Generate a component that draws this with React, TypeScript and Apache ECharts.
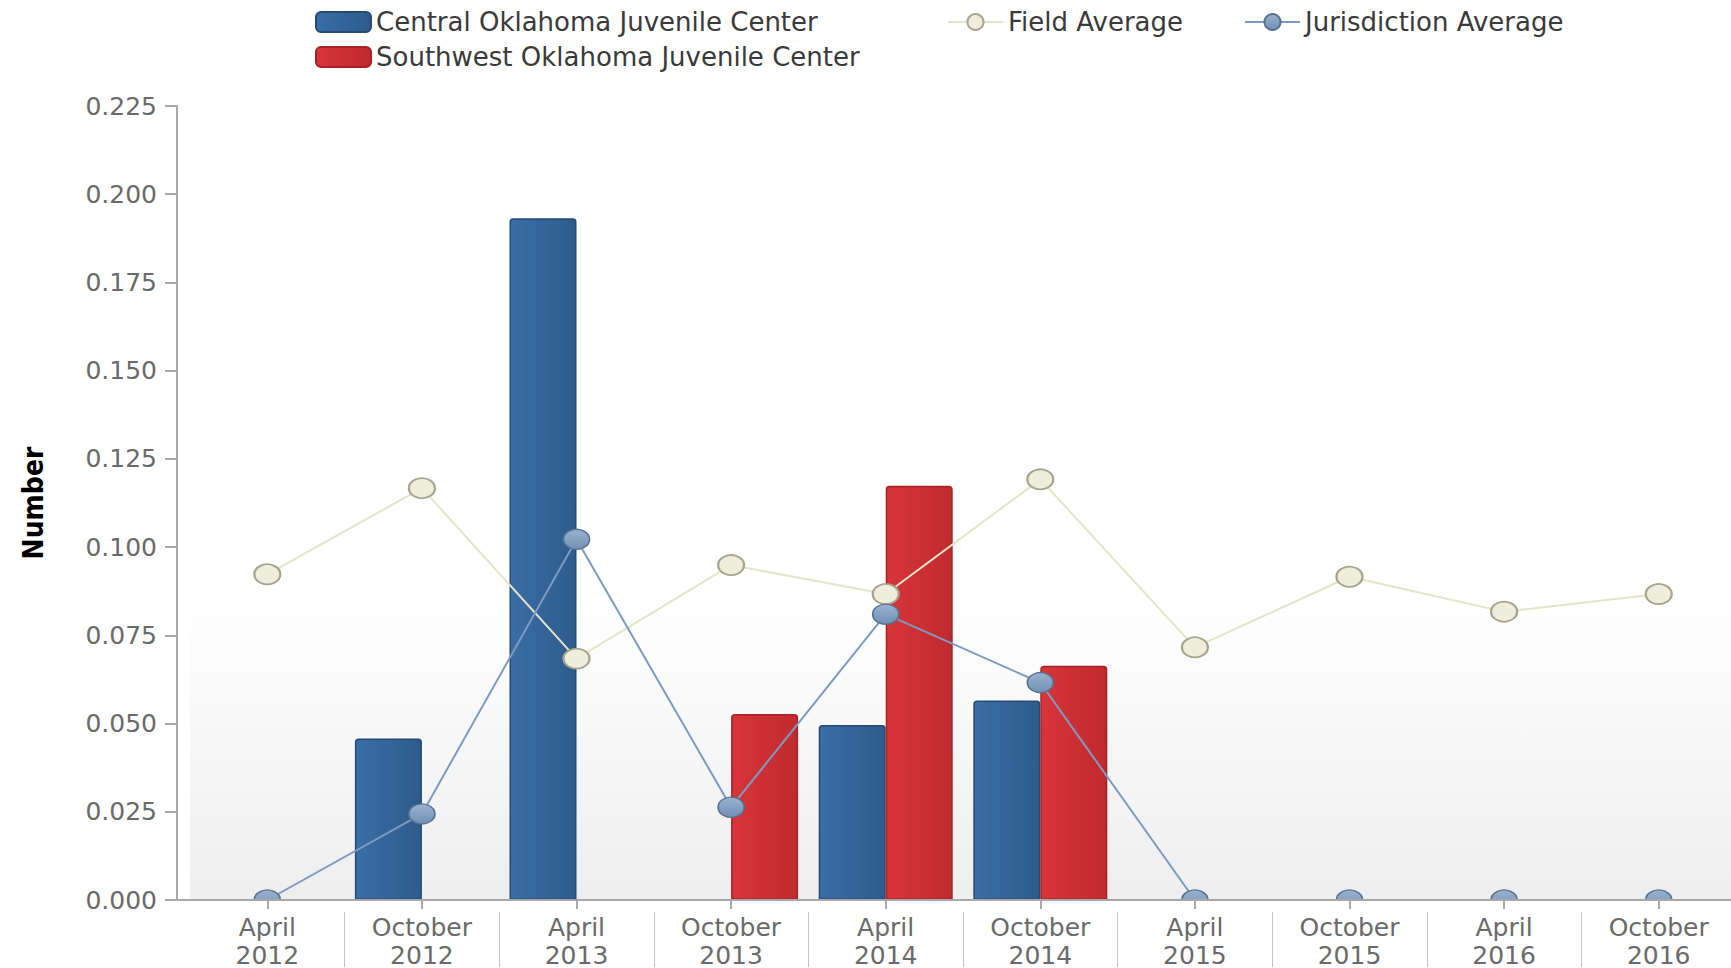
import React, { useEffect, useRef } from "react";
import * as echarts from "echarts";

const categories = [
  "April\n2012", "October\n2012", "April\n2013", "October\n2013", "April\n2014",
  "October\n2014", "April\n2015", "October\n2015", "April\n2016", "October\n2016",
];
const centralValues = [null, 0.0458, 0.1932, null, 0.0496, 0.0565, null, null, null, null];
const southwestValues = [null, null, null, 0.0527, 0.1174, 0.0664, null, null, null, null];
const fieldAverage = [0.0923, 0.1167, 0.0684, 0.0949, 0.0867, 0.1192, 0.0716, 0.0916, 0.0817, 0.0867];
const jurisdictionAverage = [0, 0.0244, 0.1022, 0.0263, 0.081, 0.0616, 0, 0, 0, 0];

const seriesNames = [
  "Central Oklahoma Juvenile Center",
  "Southwest Oklahoma Juvenile Center",
  "Field Average",
  "Jurisdiction Average",
];

const FONT = "'DejaVu Sans', Verdana, sans-serif";

export default function App() {
  const ref = useRef<HTMLDivElement>(null);
  useEffect(() => {
    if (!ref.current) return;
    const chart = echarts.init(ref.current, undefined, { renderer: "svg" });
    const grad = (a: string, b: string) =>
      new echarts.graphic.LinearGradient(0, 0, 1, 0, [
        { offset: 0, color: a },
        { offset: 1, color: b },
      ]);
    const legendBase = {
      orient: "horizontal",
      padding: 0,
      itemWidth: 55,
      itemHeight: 20,
      textStyle: { fontSize: 26, color: "#3a3a3a", fontFamily: FONT },
      selectedMode: false,
    };
    chart.setOption({
      animation: false,
      backgroundColor: "#ffffff",
      legend: [
        { ...legendBase, left: 315, top: 9, data: [{ name: seriesNames[0], icon: "roundRect" }] },
        { ...legendBase, left: 315, top: 44, data: [{ name: seriesNames[1], icon: "roundRect" }] },
        { ...legendBase, left: 947, top: 9, data: [seriesNames[2]] },
        { ...legendBase, left: 1244, top: 9, data: [seriesNames[3]] },
      ],
      grid: {
        left: 190,
        top: 106,
        width: 1546,
        height: 794,
        outerBoundsMode: "none",
        containLabel: false,
        show: true,
        borderWidth: 0,
        borderColor: "transparent",
        backgroundColor: new echarts.graphic.LinearGradient(0, 0, 0, 1, [
          { offset: 0, color: "#ffffff" },
          { offset: 0.62, color: "#ffffff" },
          { offset: 1, color: "#eeeeee" },
        ]),
      },
      xAxis: [
        {
          type: "category",
          data: categories,
          boundaryGap: true,
          z: 9,
          axisLine: { show: true, lineStyle: { color: "#a8a8a8", width: 2 } },
          axisTick: { show: true, alignWithLabel: true, length: 9, lineStyle: { color: "#a8a8a8", width: 2 } },
          axisLabel: {
            interval: 0,
            margin: 13,
            fontSize: 25,
            lineHeight: 28,
            color: "#6a6a6a",
            fontFamily: FONT,
            align: "center",
          },
          splitLine: { show: false },
        },
        {
          type: "category",
          data: categories,
          position: "bottom",
          offset: 12,
          boundaryGap: true,
          z: 9,
          axisLine: { show: false },
          axisTick: {
            show: true,
            alignWithLabel: false,
            length: 55,
            interval: (i: number) => i > 0,
            lineStyle: { color: "#c4c4c4", width: 1 },
          },
          axisLabel: { show: false },
          splitLine: { show: false },
        },
      ],
      yAxis: {
        type: "value",
        min: 0,
        max: 0.225,
        interval: 0.025,
        offset: 13,
        name: "Number",
        nameLocation: "middle",
        nameGap: 130,
        nameTextStyle: {
          fontSize: 28,
          fontWeight: "bold",
          color: "#000",
          fontFamily: "'Liberation Sans Narrow', 'DejaVu Sans Condensed', sans-serif",
        },
        axisLine: { show: true, lineStyle: { color: "#a8a8a8", width: 2 } },
        axisTick: { show: true, length: 12, lineStyle: { color: "#a8a8a8", width: 2 } },
        axisLabel: {
          margin: 20,
          fontSize: 25,
          color: "#6a6a6a",
          fontFamily: FONT,
          formatter: (v: number) => v.toFixed(3),
        },
        splitLine: { show: false },
      },
      graphic: [
        {
          type: "rect",
          shape: { x: 178, y: 901, width: 1553, height: 12 },
          style: { fill: "#ffffff" },
          z: 7,
        },
        {
          type: "line",
          shape: { x1: 176, y1: 900, x2: 191, y2: 900 },
          style: { stroke: "#a8a8a8", lineWidth: 2 },
          z: 10,
        },
      ],
      series: [
        {
          name: seriesNames[0],
          type: "bar",
          data: centralValues,
          barWidth: 67,
          barGap: "0%",
          itemStyle: {
            color: grad("#3a6ea6", "#2e5b8c"),
            borderColor: "#254a74",
            borderWidth: 1.5,
            borderRadius: [3, 3, 0, 0],
          },
        },
        {
          name: seriesNames[1],
          type: "bar",
          data: southwestValues,
          barWidth: 67,
          barGap: "0%",
          itemStyle: {
            color: grad("#d73539", "#c02a2e"),
            borderColor: "#a52226",
            borderWidth: 1.5,
            borderRadius: [3, 3, 0, 0],
          },
        },
        {
          name: seriesNames[2],
          type: "line",
          data: fieldAverage,
          symbol: "circle",
          symbolSize: [26, 20],
          lineStyle: { color: "#e4e4c8", width: 2 },
          itemStyle: { color: "#eeeedc", borderColor: "#a5a58c", borderWidth: 2 },
          z: 5,
        },
        {
          name: seriesNames[3],
          type: "line",
          data: jurisdictionAverage,
          symbol: "circle",
          symbolSize: [26, 20],
          lineStyle: { color: "#7d9bc1", width: 2 },
          itemStyle: {
            color: new echarts.graphic.LinearGradient(0, 0, 0, 1, [
              { offset: 0, color: "#9ab2cf" },
              { offset: 1, color: "#7190b6" },
            ]),
            borderColor: "#58728f",
            borderWidth: 1.5,
          },
          z: 6,
        },
      ],
    });
    return () => chart.dispose();
  }, []);
  return (
    <div
      ref={ref}
      style={{ position: "fixed", left: 0, top: 0, width: 1731, height: 968 }}
    />
  );
}
